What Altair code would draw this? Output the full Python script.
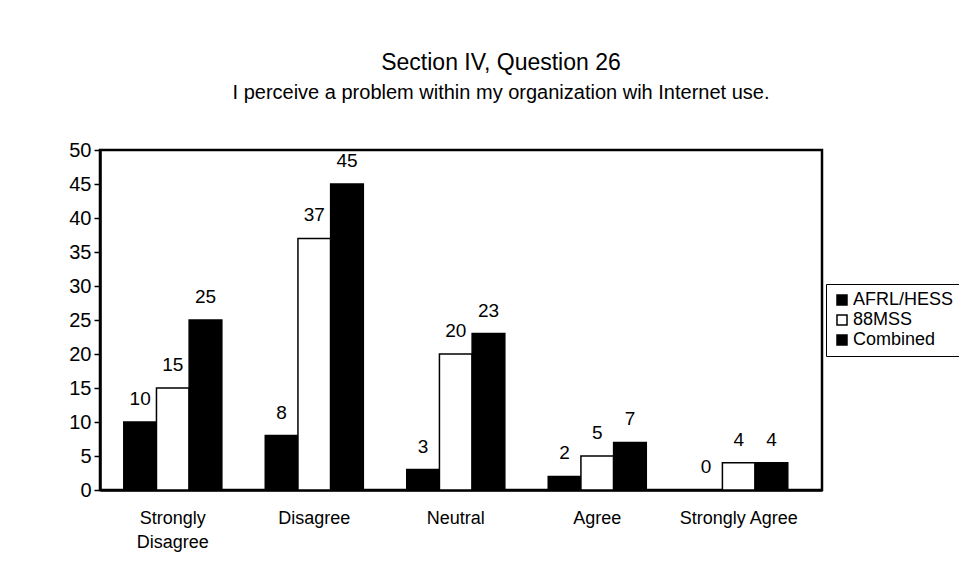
import altair as alt
import pandas as pd

categories = ["Strongly Disagree", "Disagree", "Neutral", "Agree", "Strongly Agree"]
series = ["AFRL/HESS", "88MSS", "Combined"]
afrl = [10, 8, 3, 2, 0]
mss88 = [15, 37, 20, 5, 4]
combined = [25, 45, 23, 7, 4]
y_ticks = [0, 5, 10, 15, 20, 25, 30, 35, 40, 45, 50]
colors = ["#000000", "#ffffff", "#000000"]

rows = []
for i, c in enumerate(categories):
    for s, vals in zip(series, [afrl, mss88, combined]):
        rows.append({"category": c, "series": s, "value": vals[i]})
df = pd.DataFrame(rows)

FONT = "Liberation Sans"

xscale = alt.Scale(paddingInner=0.307, paddingOuter=0.205, align=0.41)
yscale = alt.Scale(domain=[0, 50], nice=False)
xoscale = alt.Scale(paddingInner=0, paddingOuter=0)

xaxis = alt.Axis(labelAngle=0, ticks=False, labelFontSize=18,
                 labelPadding=19, labelLineHeight=24, labelFont=FONT,
                 labelExpr="datum.value == 'Strongly Disagree' ? ['Strongly', 'Disagree'] : datum.value",
                 domainColor="black", domainWidth=2.5, labelColor="black")
yaxis = alt.Axis(values=y_ticks, grid=False, tickSize=6,
                 tickColor="black", tickWidth=1.5, labelFontSize=20,
                 labelFont=FONT, labelOverlap=False,
                 labelPadding=3, domainColor="black", domainWidth=2.5,
                 labelColor="black")

X = alt.X("category:N", sort=categories, title=None, scale=xscale, axis=xaxis)
XO = alt.XOffset("series:N", sort=series, scale=xoscale)
Y = alt.Y("value:Q", title=None, scale=yscale, axis=yaxis)

bars = alt.Chart(df).mark_bar(stroke="black", strokeWidth=1.5).encode(
    x=X, xOffset=XO, y=Y,
    fill=alt.Fill("series:N", sort=series,
                  scale=alt.Scale(domain=series, range=colors),
                  legend=alt.Legend(title=None, orient="none", legendX=726, legendY=134,
                                    symbolType="square", symbolSize=100,
                                    symbolStrokeColor="black", symbolStrokeWidth=1.5,
                                    labelFontSize=18, labelFont=FONT, labelColor="black",
                                    rowPadding=2, padding=7, strokeColor="black",
                                    fillColor="white", labelOffset=2)),
)

labels = alt.Chart(df).mark_text(baseline="bottom", dy=-13, fontSize=19, font=FONT,
                                 color="black").encode(
    x=X, xOffset=XO, y=Y,
    text="value:Q",
)

chart = alt.layer(bars, labels).properties(
    width=722, height=340,
    padding={"left": 92, "top": 142, "right": 137, "bottom": 81},
    autosize=alt.AutoSizeParams(type="none"),
    title=alt.TitleParams(
        text="Section IV, Question 26",
        subtitle="I perceive a problem within my organization wih Internet use.",
        fontSize=23, font=FONT, fontWeight="normal", color="black",
        subtitleFontSize=20, subtitleFont=FONT, subtitleColor="black",
        subtitlePadding=8,
        anchor="middle", dx=40, offset=37),
).configure(
    font=FONT,
    view=alt.ViewConfig(stroke="black", strokeWidth=2.5),
)

chart.save("out.html", embed_options={"renderer": "svg", "actions": False})
